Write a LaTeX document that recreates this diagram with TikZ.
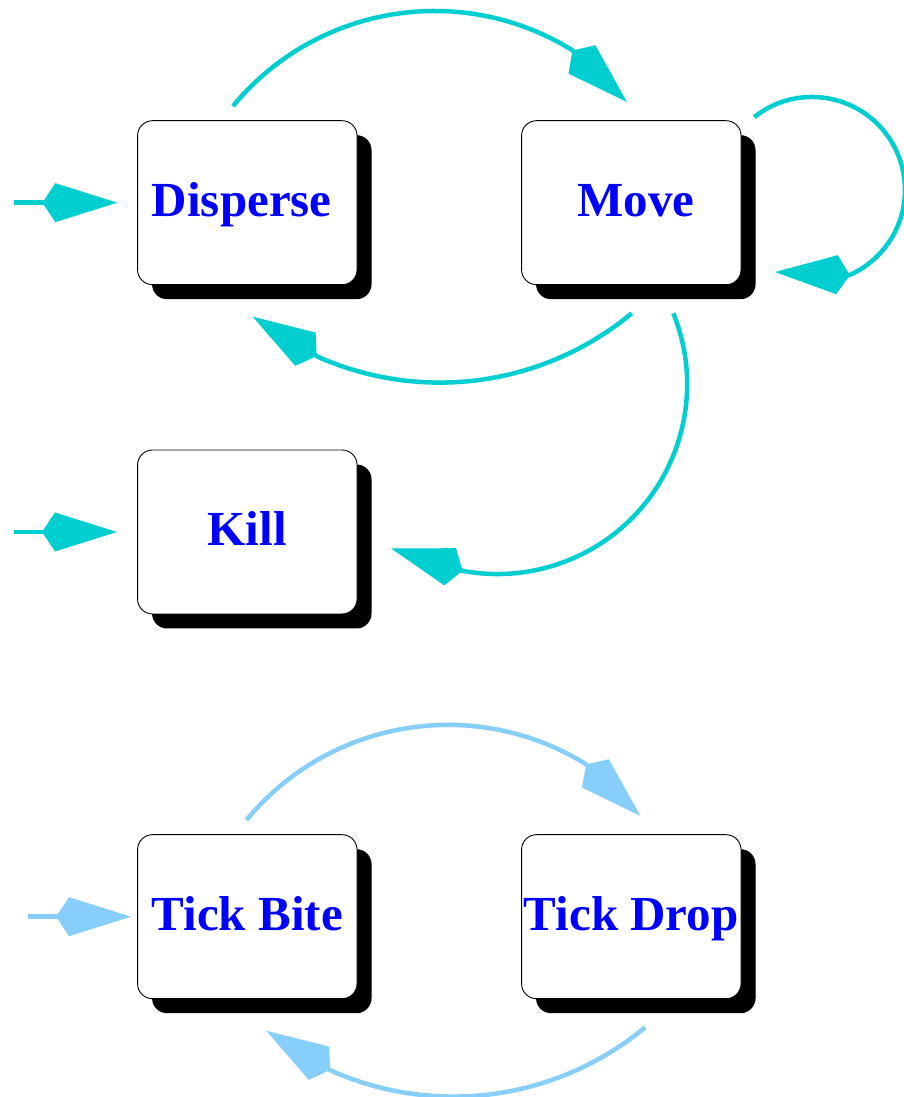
\documentclass[tikz,border=0pt]{standalone}
\usepackage{fontspec}
\setmainfont{Liberation Serif}
\usetikzlibrary{arrows.meta,calc,shadows}
\definecolor{flowcyan}{RGB}{0,206,209}
\definecolor{tickblue}{RGB}{135,206,250}
\begin{document}
\begin{tikzpicture}[x=1pt,y=1pt,
  state/.style={draw=black, line width=0.9pt, fill=white, rounded corners=15pt,
    minimum width=219.5pt, minimum height=164pt, inner sep=0pt,
    text=blue, font=\fontsize{49}{49}\selectfont\bfseries,
    text height=34pt, text depth=6pt,
    drop shadow={fill=black, opacity=1, shadow xshift=14.5pt, shadow yshift=-14.5pt}},
  flow/.style={line width=4.5pt,
    -{Kite[length=75pt,width=39pt,inset=13pt,line width=0pt]}}]

% canvas
\fill[white] (0,0) rectangle (903,1097);
\useasboundingbox (0,0) rectangle (903,1097);

% states
\node[state] (disp) at (247.3,894.3) {\hspace*{-11pt}Disperse};
\node[state] (move) at (631.3,894.3) {\hspace*{9pt}Move};
\node[state] (kill) at (247.3,565) {Kill};
\node[state] (bite) at (247.3,180.3) {Tick Bite};
\node[state] (drop) at (631.3,180.3) {Tick Drop};

% connector end points
\coordinate (aS) at ($(disp.center)+(-14.3,96.6)$);
\coordinate (aT) at ($(move.center)+(-4.3,100.7)$);
\coordinate (bS) at ($(move.center)+(122.9,85.6)$);
\coordinate (bT) at ($(move.center)+(143.7,-69.3)$);
\coordinate (cS) at ($(move.center)+(0.4,-110.6)$);
\coordinate (cT) at ($(disp.center)+(5.4,-114)$);
\coordinate (dS) at ($(move.center)+(42,-110.6)$);
\coordinate (dT) at ($(kill.center)+(143.7,-16.3)$);
\coordinate (eS) at ($(disp.center)+(-233.3,0)$);
\coordinate (eT) at ($(disp.center)+(-130,0)$);
\coordinate (fS) at ($(kill.center)+(-233.3,0)$);
\coordinate (fT) at ($(kill.center)+(-130.3,0)$);
\coordinate (gS) at ($(bite.center)+(-0.8,96.7)$);
\coordinate (gT) at ($(drop.center)+(9.2,100.7)$);
\coordinate (hS) at ($(drop.center)+(13.9,-110.6)$);
\coordinate (hT) at ($(bite.center)+(18.9,-114)$);
\coordinate (iS) at ($(bite.center)+(-219.6,0)$);
\coordinate (iT) at ($(bite.center)+(-116.3,0)$);

% upper transitions
\draw[flow, flowcyan] (aS) arc[start angle=140.5, end angle=58.3, radius=261.3] -- (aT);
\draw[flow, flowcyan] (bS) arc[start angle=128.4, end angle=-66.4, radius=93] -- (bT);
\draw[flow, flowcyan] (cS) arc[start angle=-50.3, end angle=-114, radius=300.5] -- (cT);
\draw[flow, flowcyan] (dS) arc[start angle=22, end angle=-100.4, radius=189.7] -- (dT);
\draw[flow, flowcyan] (eS) -- (eT);
\draw[flow, flowcyan] (fS) -- (fT);

% tick transitions
\draw[flow, tickblue] (gS) arc[start angle=140.5, end angle=58.3, radius=261.3] -- (gT);
\draw[flow, tickblue] (hS) arc[start angle=-50.3, end angle=-114, radius=300.5] -- (hT);
\draw[flow, tickblue] (iS) -- (iT);
\end{tikzpicture}
\end{document}
